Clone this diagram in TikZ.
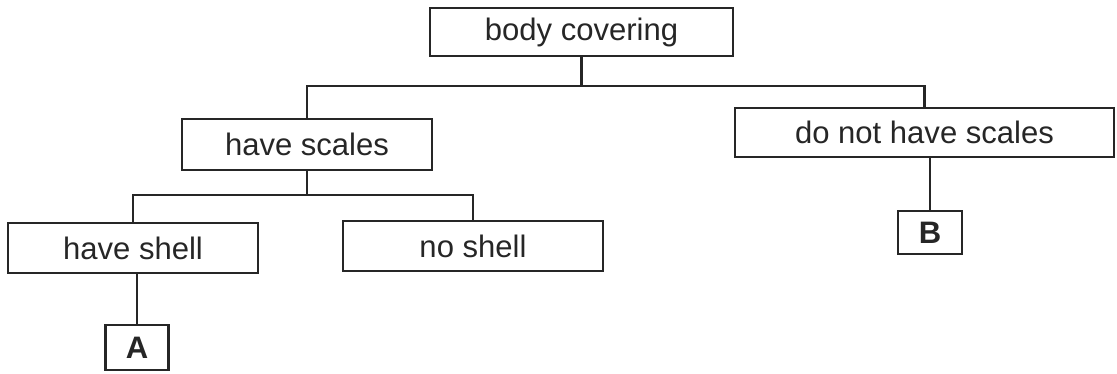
\documentclass[tikz,border=0pt]{standalone}
\usepackage{fontspec}
\setmainfont{Liberation Sans}
\begin{document}
\begin{tikzpicture}[x=0.03cm, y=-0.03cm, line width=1.8pt,
    box/.style={draw=black!85, rectangle, inner sep=0pt, text=black!85,
        font=\fontsize{26.5}{30}\selectfont},
    leaf/.style={box, font=\fontsize{26.5}{30}\selectfont\bfseries}]
    \useasboundingbox (0,0) rectangle (1117,374);
    % boxes
    \node[box, minimum width=9.09cm, minimum height=1.44cm] (cover) at (581.5,32) {body covering};
    \node[box, minimum width=7.5cm, minimum height=1.53cm] (scales) at (307,144.5) {have scales};
    \node[box, minimum width=11.37cm, minimum height=1.47cm] (noscales) at (924.5,132.5) {do not have scales};
    \node[box, minimum width=7.5cm, minimum height=1.5cm] (shell) at (133,248) {have shell};
    \node[box, minimum width=7.8cm, minimum height=1.5cm] (noshell) at (473,246) {no shell};
    \node[leaf, minimum width=1.92cm, minimum height=1.29cm] (B) at (930,232.5) {B};
    \node[leaf, minimum width=1.89cm, minimum height=1.35cm] (A) at (137,347.5) {A};
    % joints
    \coordinate (j1) at (581.5,86);
    \coordinate (j2) at (307,195);
    % connectors
    \draw[black!85] (cover.south) -- (j1);
    \draw[black!85] (scales.north) |- (j1) -| (noscales.north);
    \draw[black!85] (scales.south) -- (j2);
    \draw[black!85] (shell.north) |- (j2) -| (noshell.north);
    \draw[black!85] (A.north) -- (A.north |- shell.south);
    \draw[black!85] (B.north) -- (B.north |- noscales.south);
\end{tikzpicture}
\end{document}
